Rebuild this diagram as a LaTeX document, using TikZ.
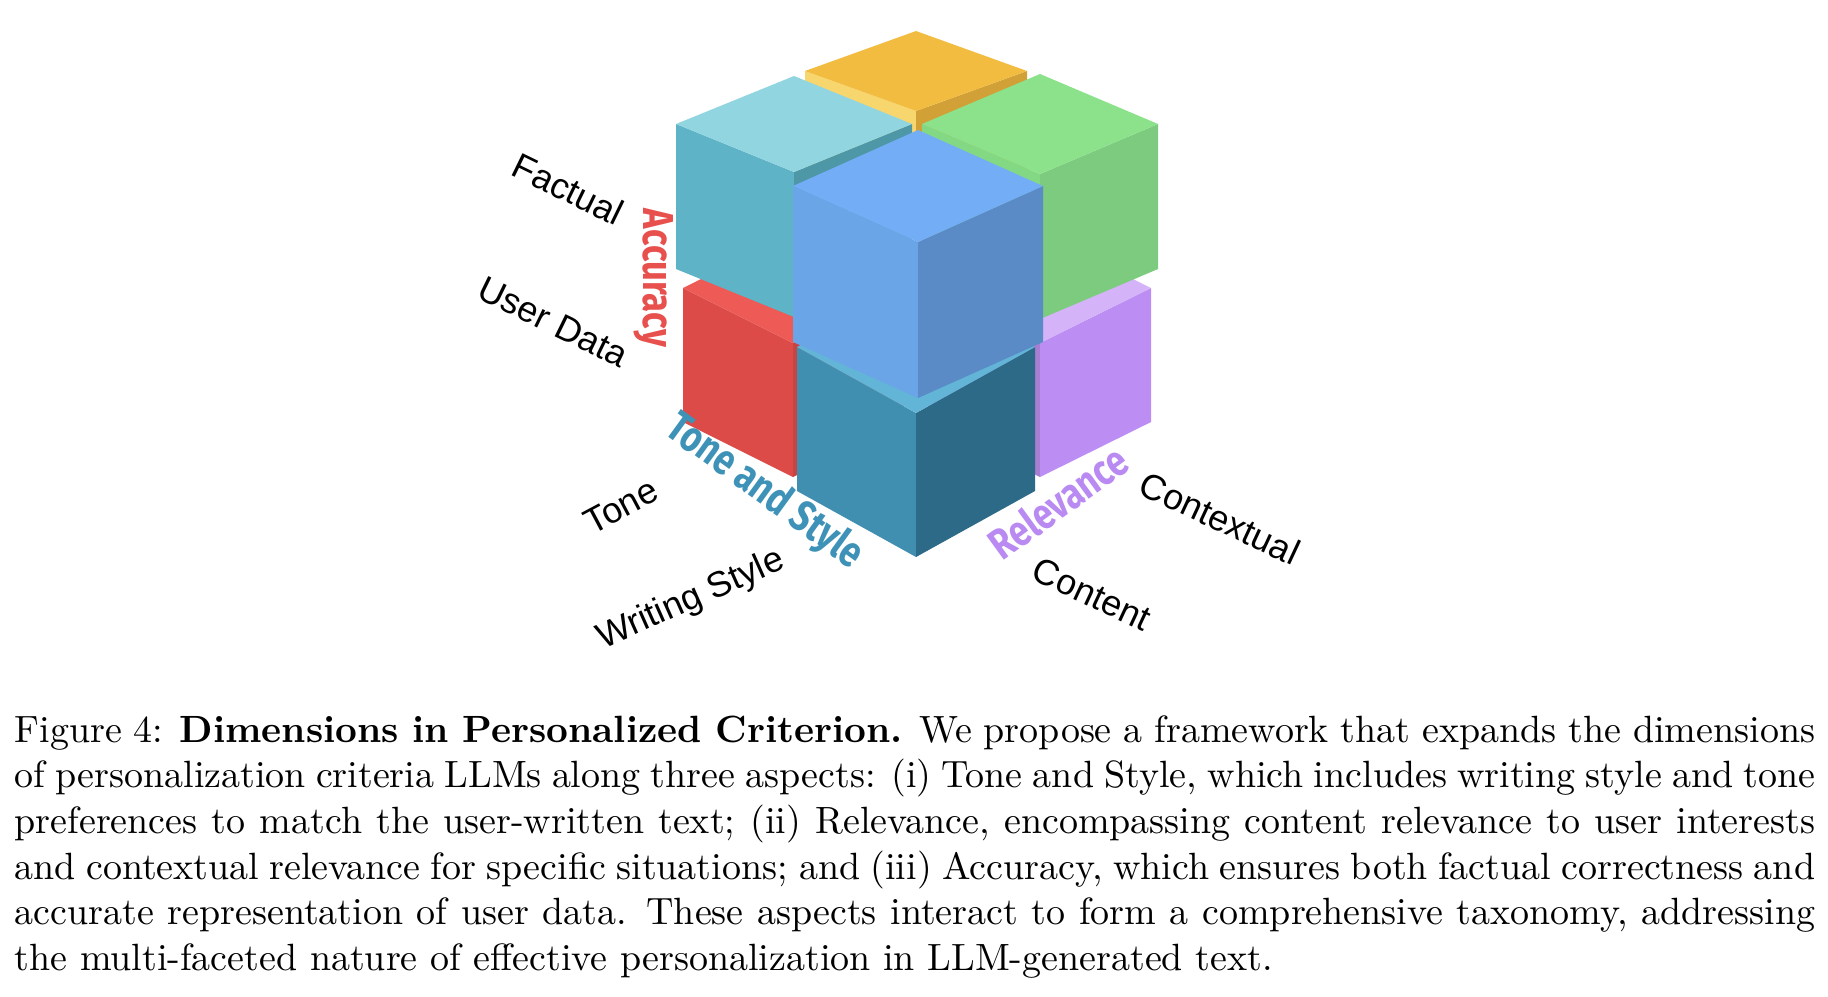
\documentclass[tikz,border=0pt]{standalone}
\usepackage{fontspec}
\setsansfont{Liberation Sans}
\newfontfamily\cond[FakeStretch=0.8]{Fira Sans}
\newcommand\blk[8]{%
 \fill[#7] (#1,#2) -- ++(-#3,-#4) -- ++(0,#5) -- ++(#3,#4) -- cycle;
 \fill[#8] (#1,#2) -- ++(#3,-#4) -- ++(0,#5) -- ++(-#3,#4) -- cycle;
 \fill[#6] (#1,#2) -- ++(-#3,-#4) -- ++(#3,-#4) -- ++(#3,#4) -- cycle;}
\begin{document}
\begin{tikzpicture}[x=0.01cm,y=-0.01cm,
 lab/.style={font=\sffamily\fontsize{10.2}{12}\selectfont,inner sep=0pt},
 asp/.style={font=\cond\bfseries\fontsize{12.3}{14}\selectfont,inner sep=0pt}]
\useasboundingbox[fill=white] (0,0) rectangle (1828,996);
% back yellow
\blk{916}{111}{111}{40}{100}{{fill={rgb,255:red,242;green,188;blue,65}}}{{fill={rgb,255:red,248;green,214;blue,110}}}{{fill={rgb,255:red,209;green,160;blue,54}}}
% red and purple bottom
\blk{793}{343}{110}{55}{134}{{fill={rgb,255:red,238;green,90;blue,85}}}{{fill={rgb,255:red,220;green,75;blue,72}}}{{fill={rgb,255:red,198;green,68;blue,66}}}
\blk{1040}{343}{111}{55}{134}{{fill={rgb,255:red,212;green,179;blue,248}}}{{fill={rgb,255:red,167;green,126;blue,210}}}{{fill={rgb,255:red,188;green,141;blue,242}}}
% front bottom
\blk{916}{413}{119}{66}{144}{{fill={rgb,255:red,98;green,181;blue,214}}}{{fill={rgb,255:red,65;green,143;blue,176}}}{{fill={rgb,255:red,45;green,106;blue,135}}}
% teal and green top
\blk{794}{172}{118}{48}{145}{{fill={rgb,255:red,144;green,213;blue,224}}}{{fill={rgb,255:red,95;green,179;blue,198}}}{{fill={rgb,255:red,78;green,151;blue,166}}}
\blk{1040}{174}{118}{50}{145}{{fill={rgb,255:red,139;green,226;blue,139}}}{{fill={rgb,255:red,131;green,217;blue,131}}}{{fill={rgb,255:red,124;green,203;blue,126}}}
% front top blue
\blk{918}{242}{125}{56}{156}{{fill={rgb,255:red,114;green,173;blue,245}}}{{fill={rgb,255:red,106;green,165;blue,232}}}{{fill={rgb,255:red,90;green,139;blue,198}}}
% labels
\node[lab,rotate=-26] (fac) at (568,189) {Factual};
\node[lab,rotate=-26] (usr) at (553,322) {User Data};
\node[lab,rotate=28] (ton) at (621,506) {Tone};
\node[lab,rotate=24] (wri) at (691,600) {Writing Style};
\node[lab,rotate=-25] (ctx) at (1220,518) {Contextual};
\node[lab,rotate=-25] (cnt) at (1092,594) {Content};
\node[asp,rotate=-90,text={rgb,255:red,232;green,80;blue,78}] (acc) at (654,278) {Accuracy};
\node[asp,rotate=-36,text={rgb,255:red,62;green,146;blue,184}] (tas) at (764,492) {Tone and Style};
\node[asp,rotate=36,text={rgb,255:red,185;green,138;blue,242}] (rel) at (1058,502) {Relevance};
% caption
\node[anchor=base west,inner sep=0pt] (cap) at (14,742) {\parbox[t]{512pt}{\fontsize{10.8}{13}\selectfont
Figure 4: \textbf{Dimensions in Personalized Criterion.} We propose a framework that expands the dimensions\linebreak
of personalization criteria LLMs along three aspects: (i) Tone and Style, which includes writing style and tone\linebreak
preferences to match the user-written text; (ii) Relevance, encompassing content relevance to user interests\linebreak
and contextual relevance for specific situations; and (iii) Accuracy, which ensures both factual correctness and\linebreak
accurate representation of user data. These aspects interact to form a comprehensive taxonomy, addressing\linebreak
the multi-faceted nature of effective personalization in LLM-generated text.}};
\end{tikzpicture}
\end{document}
